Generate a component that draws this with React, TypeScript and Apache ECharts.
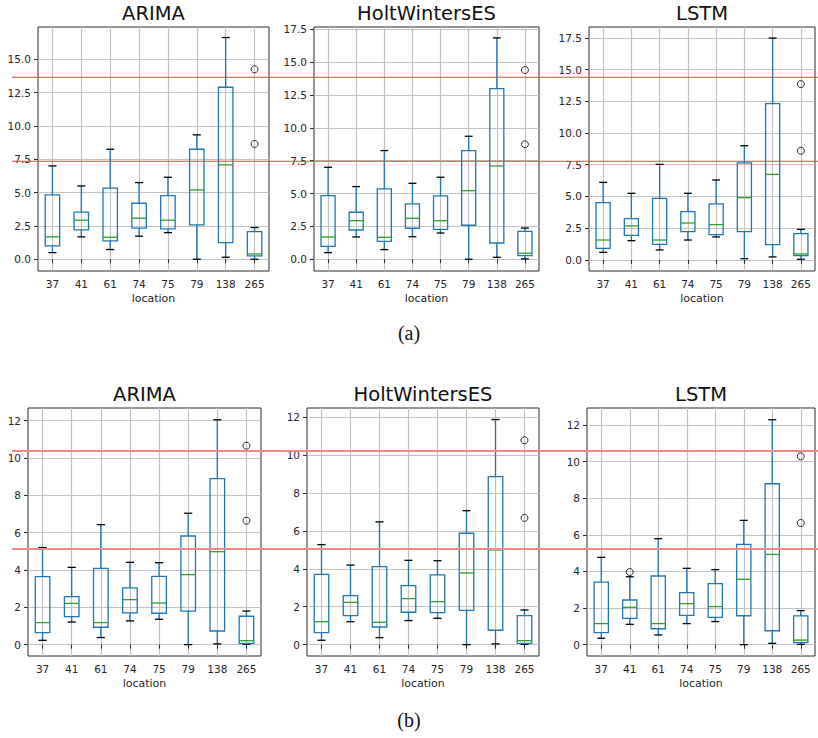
import React, { useEffect, useRef } from "react";
import * as echarts from "echarts";

// ---------- data ----------
const categories = ["37", "41", "61", "74", "75", "79", "138", "265"];

// each row: [lower whisker, Q1, median, Q3, upper whisker]
const arimaA = [
  [0.5, 1.0, 1.68, 4.83, 7.0],
  [1.68, 2.2, 2.93, 3.53, 5.5],
  [0.73, 1.38, 1.65, 5.33, 8.25],
  [1.73, 2.33, 3.08, 4.2, 5.75],
  [2.0, 2.28, 2.93, 4.78, 6.15],
  [0.0, 2.58, 5.2, 8.25, 9.33],
  [0.15, 1.25, 7.08, 12.9, 16.63],
  [0.0, 0.25, 0.4, 2.08, 2.38],
];
const arimaAOut = [[7, 14.25], [7, 8.65]];

const holtA = [
  [0.51, 0.99, 1.7, 4.84, 7.0],
  [1.7, 2.23, 2.94, 3.58, 5.53],
  [0.74, 1.37, 1.67, 5.35, 8.27],
  [1.72, 2.36, 3.12, 4.21, 5.78],
  [2.0, 2.28, 2.94, 4.82, 6.24],
  [0.0, 2.59, 5.22, 8.27, 9.36],
  [0.15, 1.24, 7.1, 12.98, 16.84],
  [0.03, 0.28, 0.46, 2.13, 2.38],
];
const holtAOut = [[7, 14.4], [7, 8.75]];

const lstmA = [
  [0.6, 0.92, 1.57, 4.51, 6.11],
  [1.52, 1.94, 2.68, 3.25, 5.25],
  [0.79, 1.23, 1.57, 4.85, 7.53],
  [1.57, 2.23, 2.91, 3.8, 5.25],
  [1.81, 1.99, 2.78, 4.41, 6.3],
  [0.1, 2.23, 4.91, 7.64, 9.0],
  [0.24, 1.21, 6.74, 12.31, 17.48],
  [0.05, 0.34, 0.47, 2.07, 2.41],
];
const lstmAOut = [[7, 13.85], [7, 8.6]];

const arimaB = [
  [0.23, 0.64, 1.18, 3.64, 5.2],
  [1.21, 1.5, 2.21, 2.57, 4.14],
  [0.38, 0.93, 1.18, 4.09, 6.43],
  [1.27, 1.7, 2.41, 3.04, 4.41],
  [1.36, 1.68, 2.23, 3.66, 4.39],
  [0.0, 1.79, 3.75, 5.82, 7.04],
  [0.04, 0.73, 4.98, 8.89, 12.05],
  [0.02, 0.07, 0.21, 1.52, 1.8],
];
const arimaBOut = [[7, 10.66], [7, 6.64]];

const holtB = [
  [0.23, 0.63, 1.21, 3.71, 5.28],
  [1.21, 1.53, 2.23, 2.59, 4.2],
  [0.37, 0.93, 1.18, 4.12, 6.48],
  [1.27, 1.71, 2.43, 3.11, 4.45],
  [1.39, 1.69, 2.27, 3.68, 4.43],
  [0.0, 1.81, 3.78, 5.88, 7.07],
  [0.04, 0.76, 5.0, 8.87, 11.88],
  [0.02, 0.07, 0.21, 1.53, 1.83],
];
const holtBOut = [[7, 10.79], [7, 6.69]];

const lstmB = [
  [0.35, 0.66, 1.15, 3.42, 4.77],
  [1.11, 1.44, 2.04, 2.44, 3.71],
  [0.53, 0.87, 1.15, 3.75, 5.79],
  [1.15, 1.6, 2.24, 2.84, 4.17],
  [1.26, 1.49, 2.08, 3.33, 4.1],
  [0.0, 1.58, 3.57, 5.48, 6.79],
  [0.07, 0.76, 4.93, 8.79, 12.29],
  [0.02, 0.11, 0.25, 1.57, 1.86],
];
const lstmBOut = [[1, 3.97], [7, 10.29], [7, 6.65]];

const topTicks = [0, 2.5, 5, 7.5, 10, 12.5, 15, 17.5];
const bottomTicks = [0, 2, 4, 6, 8, 10, 12];

// threshold lines (values on the ARIMA axis of each row)
const topThresholds = [13.65, 7.35];
const bottomThresholds = [10.38, 5.13];

const titles = ["ARIMA", "HoltWintersES", "LSTM"];
const captions = ["(a)", "(b)"];

// ---------- layout ----------
const BLUE = "#1f77b4";
const GREEN = "#2ca02c";
const GRIDC = "#c2c2c2";
const FRAME = "#2b2b2b";
const TXT = "#262626";
const FONT = "DejaVu Sans";

const panels = [
  { title: titles[0], grid: { left: 38, top: 27, width: 231, height: 244 }, range: [-0.88, 17.42], ticks: topTicks, dec: 1, boxes: arimaA, out: arimaAOut, titleTop: 3 },
  { title: titles[1], grid: { left: 314, top: 27, width: 225, height: 244 }, range: [-0.89, 17.67], ticks: topTicks, dec: 1, boxes: holtA, out: holtAOut, titleTop: 3 },
  { title: titles[2], grid: { left: 589, top: 27, width: 226, height: 244 }, range: [-0.87, 18.35], ticks: topTicks, dec: 1, boxes: lstmA, out: lstmAOut, titleTop: 3 },
  { title: titles[0], grid: { left: 28, top: 408, width: 233, height: 248 }, range: [-0.61, 12.68], ticks: bottomTicks, dec: 0, boxes: arimaB, out: arimaBOut, titleTop: 384 },
  { title: titles[1], grid: { left: 307, top: 408, width: 232, height: 248 }, range: [-0.6, 12.49], ticks: bottomTicks, dec: 0, boxes: holtB, out: holtBOut, titleTop: 384 },
  { title: titles[2], grid: { left: 587, top: 408, width: 228, height: 248 }, range: [-0.62, 12.93], ticks: bottomTicks, dec: 0, boxes: lstmB, out: lstmBOut, titleTop: 384 },
];

function renderBox(params: any, api: any) {
  const x = api.value(0);
  const pMin = api.coord([x, api.value(1)]);
  const pQ1 = api.coord([x, api.value(2)]);
  const pMed = api.coord([x, api.value(3)]);
  const pQ3 = api.coord([x, api.value(4)]);
  const pMax = api.coord([x, api.value(5)]);
  const band = api.size([1, 0])[0];
  const half = band * 0.25;
  const capHalf = band * 0.14;
  const cx = pMed[0];
  const lw = 1.3;
  return {
    type: "group",
    children: [
      { type: "line", shape: { x1: cx, y1: pMin[1], x2: cx, y2: pQ1[1] }, style: { stroke: BLUE, lineWidth: lw } },
      { type: "line", shape: { x1: cx, y1: pQ3[1], x2: cx, y2: pMax[1] }, style: { stroke: BLUE, lineWidth: lw } },
      { type: "line", shape: { x1: cx - capHalf, y1: pMin[1], x2: cx + capHalf, y2: pMin[1] }, style: { stroke: "#000", lineWidth: lw } },
      { type: "line", shape: { x1: cx - capHalf, y1: pMax[1], x2: cx + capHalf, y2: pMax[1] }, style: { stroke: "#000", lineWidth: lw } },
      { type: "rect", shape: { x: cx - half, y: pQ3[1], width: 2 * half, height: pQ1[1] - pQ3[1] }, style: { fill: "none", stroke: BLUE, lineWidth: lw } },
      { type: "line", shape: { x1: cx - half, y1: pMed[1], x2: cx + half, y2: pMed[1] }, style: { stroke: GREEN, lineWidth: lw } },
    ],
  };
}

export default function App() {
  const ref = useRef<HTMLDivElement>(null);
  useEffect(() => {
    if (!ref.current) return;
    const chart = echarts.init(ref.current, undefined, { renderer: "svg" });

    const grid: any[] = [];
    const xAxis: any[] = [];
    const yAxis: any[] = [];
    const series: any[] = [];
    const title: any[] = [];

    panels.forEach((p, i) => {
      grid.push({ ...p.grid, show: true, borderColor: FRAME, borderWidth: 1, backgroundColor: "transparent" });
      xAxis.push({
        type: "category",
        gridIndex: i,
        data: categories,
        boundaryGap: true,
        name: "location",
        nameLocation: "middle",
        nameGap: 22,
        nameTextStyle: { fontFamily: FONT, fontSize: 11, color: TXT },
        axisLine: { show: false },
        axisTick: { show: true, alignWithLabel: true, length: 4, lineStyle: { color: FRAME } },
        axisLabel: { margin: 7, fontFamily: FONT, fontSize: 10.5, color: TXT, interval: 0 },
        splitLine: { show: true, alignWithLabel: true, lineStyle: { color: GRIDC, width: 1.2 } },
      });
      const ticks = p.ticks.filter((t) => t >= p.range[0] && t <= p.range[1]);
      yAxis.push({
        type: "value",
        gridIndex: i,
        min: p.range[0],
        max: p.range[1],
        axisLine: { show: false },
        axisTick: { show: true, length: 4, lineStyle: { color: FRAME }, customValues: ticks },
        axisLabel: {
          margin: 7,
          fontFamily: FONT,
          fontSize: 10.5,
          color: TXT,
          customValues: ticks,
          formatter: (v: number) => v.toFixed(p.dec),
        },
        splitLine: { show: true, lineStyle: { color: GRIDC, width: 1.2 } },
      });
      series.push({
        type: "custom",
        xAxisIndex: i,
        yAxisIndex: i,
        renderItem: renderBox,
        encode: { x: 0, y: [1, 2, 3, 4, 5] },
        data: p.boxes.map((b, k) => [k, ...b]),
        z: 3,
      });
      series.push({
        type: "scatter",
        xAxisIndex: i,
        yAxisIndex: i,
        symbol: "circle",
        symbolSize: 7,
        itemStyle: { color: "transparent", borderColor: "#000", borderWidth: 1 },
        data: p.out,
        z: 4,
      });
      title.push({
        text: p.title,
        left: p.grid.left + p.grid.width / 2,
        top: p.titleTop,
        textAlign: "center",
        padding: 0,
        textStyle: { fontFamily: FONT, fontSize: 19.5, fontWeight: "normal", color: "#111" },
      });
    });

    const captionGraphics = [
      { id: "capA", type: "text", x: 409, y: 333, style: { text: captions[0], font: "20px 'Liberation Serif'", fill: "#111", textAlign: "center", textVerticalAlign: "middle" } },
      { id: "capB", type: "text", x: 409, y: 720, style: { text: captions[1], font: "20px 'Liberation Serif'", fill: "#111", textAlign: "center", textVerticalAlign: "middle" } },
    ];

    chart.setOption({
      animation: false,
      backgroundColor: "#ffffff",
      title,
      grid,
      xAxis,
      yAxis,
      series,
      graphic: captionGraphics,
    });

    const lines: any[] = [];
    topThresholds.forEach((v, k) => {
      const y = chart.convertToPixel({ yAxisIndex: 0 }, v) as number;
      lines.push({ id: "ta" + k, type: "line", z: 10, shape: { x1: 12, y1: y, x2: 818, y2: y }, style: { stroke: "#e0483a", lineWidth: 1.2 } });
    });
    bottomThresholds.forEach((v, k) => {
      const y = chart.convertToPixel({ yAxisIndex: 3 }, v) as number;
      lines.push({ id: "tb" + k, type: "line", z: 10, shape: { x1: 12, y1: y, x2: 818, y2: y }, style: { stroke: "#f08a8a", lineWidth: 2 } });
    });
    chart.setOption({ graphic: [...captionGraphics, ...lines] });

    return () => chart.dispose();
  }, []);
  return <div ref={ref} style={{ position: "absolute", left: 0, top: 0, width: 818, height: 738 }} />;
}
